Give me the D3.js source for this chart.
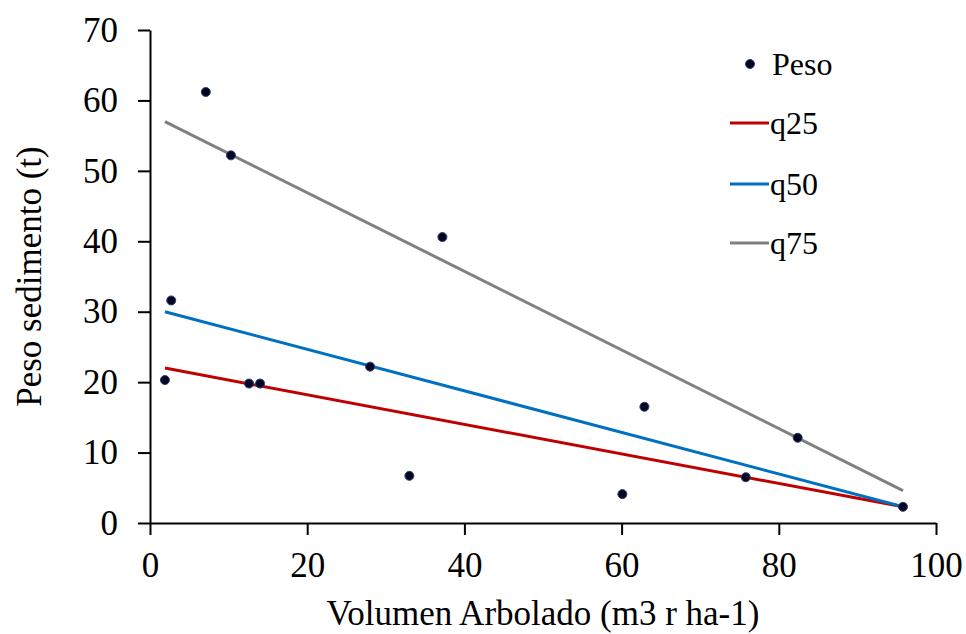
<!DOCTYPE html>
<html>
<head>
<meta charset="utf-8">
<script src="https://cdn.jsdelivr.net/npm/d3@7"></script>
<style>
    body { margin: 0; background: #fff; }
    svg text { font-family: "Liberation Serif", "Tinos", "Times New Roman", "DejaVu Serif", serif; fill: #000; }
</style>
</head>
<body>
<div id="chart"></div>
<script>
const serifFont = '"Liberation Serif", "Tinos", "Times New Roman", "DejaVu Serif", serif';

// observed points (Volumen Arbolado, Peso sedimento)
const volumen = [1.9, 2.7, 7.1, 10.3, 12.6, 14.0, 28.0, 33.0, 37.2, 60.1, 62.9, 75.8, 82.4, 95.8];
const peso = [20.3, 31.6, 61.2, 52.2, 19.8, 19.8, 22.2, 6.7, 40.6, 4.1, 16.5, 6.5, 12.1, 2.3];

// quantile regression lines, evaluated at the ends of the data range
const lineX = [1.9, 95.8];
const q25 = [22.0, 2.3];
const q50 = [30.0, 2.3];
const q75 = [57.0, 4.6];

const xTicks = [0, 20, 40, 60, 80, 100];
const yTicks = [0, 10, 20, 30, 40, 50, 60, 70];

const width = 966, height = 634;
const margin = { top: 30, right: 30, bottom: 111, left: 150 };

const svg = d3.select("#chart").append("svg")
    .attr("width", width)
    .attr("height", height)
    .style("font-family", serifFont);

const x = d3.scaleLinear().domain([0, 100]).range([margin.left, width - margin.right]);
const y = d3.scaleLinear().domain([0, 70]).range([height - margin.bottom, margin.top]);

// axes
const xAxis = svg.append("g")
    .attr("transform", `translate(0,${y(0)})`)
    .call(d3.axisBottom(x).tickValues(xTicks).tickSize(12).tickPadding(17).tickSizeOuter(0));

const yAxis = svg.append("g")
    .attr("transform", `translate(${x(0)},0)`)
    .call(d3.axisLeft(y).tickValues(yTicks).tickSize(12).tickPadding(20).tickSizeOuter(0));

[xAxis, yAxis].forEach(a => {
    a.attr("font-family", null);
    a.select(".domain").attr("stroke", "#000").attr("stroke-width", 2);
    a.selectAll(".tick line").attr("stroke", "#000").attr("stroke-width", 2);
    a.selectAll(".tick text")
        .style("font-family", serifFont)
        .style("font-size", "35px")
        .attr("fill", "#000");
});

// axis titles
svg.append("text")
    .attr("x", x(50))
    .attr("y", 625)
    .attr("text-anchor", "middle")
    .style("font-size", "35px")
    .text("Volumen Arbolado (m3 r ha-1)");

svg.append("text")
    .attr("transform", "rotate(-90)")
    .attr("x", -y(35))
    .attr("y", 41)
    .attr("text-anchor", "middle")
    .style("font-size", "35px")
    .text("Peso sedimento (t)");

// regression lines
const series = [
    { name: "q25", values: q25, color: "#C00000" },
    { name: "q50", values: q50, color: "#0070C0" },
    { name: "q75", values: q75, color: "#808080" }
];

const line = d3.line()
    .x(d => x(d[0]))
    .y(d => y(d[1]));

series.forEach(s => {
    svg.append("path")
        .datum(lineX.map((v, i) => [v, s.values[i]]))
        .attr("d", line)
        .attr("fill", "none")
        .attr("stroke", s.color)
        .attr("stroke-width", 3);
});

// points
svg.selectAll(".pt")
    .data(volumen.map((v, i) => [v, peso[i]]))
    .enter().append("circle")
    .attr("class", "pt")
    .attr("cx", d => x(d[0]))
    .attr("cy", d => y(d[1]))
    .attr("r", 4.5)
    .attr("fill", "#05051f")
    .attr("stroke", "#2a3f7a")
    .attr("stroke-width", 1);

// legend
const legend = svg.append("g");
const legendY = [64, 123, 184, 243];

legend.append("circle")
    .attr("cx", 750)
    .attr("cy", legendY[0])
    .attr("r", 4.5)
    .attr("fill", "#05051f")
    .attr("stroke", "#2a3f7a")
    .attr("stroke-width", 1);

legend.append("text")
    .attr("x", 772)
    .attr("y", legendY[0])
    .attr("dy", "0.35em")
    .style("font-size", "32px")
    .text("Peso");

series.forEach((s, i) => {
    const ly = legendY[i + 1];
    legend.append("line")
        .attr("x1", 730).attr("x2", 769)
        .attr("y1", ly).attr("y2", ly)
        .attr("stroke", s.color)
        .attr("stroke-width", 3);
    legend.append("text")
        .attr("x", 770)
        .attr("y", ly)
        .attr("dy", "0.35em")
        .style("font-size", "32px")
        .text(s.name);
});
</script>
</body>
</html>
